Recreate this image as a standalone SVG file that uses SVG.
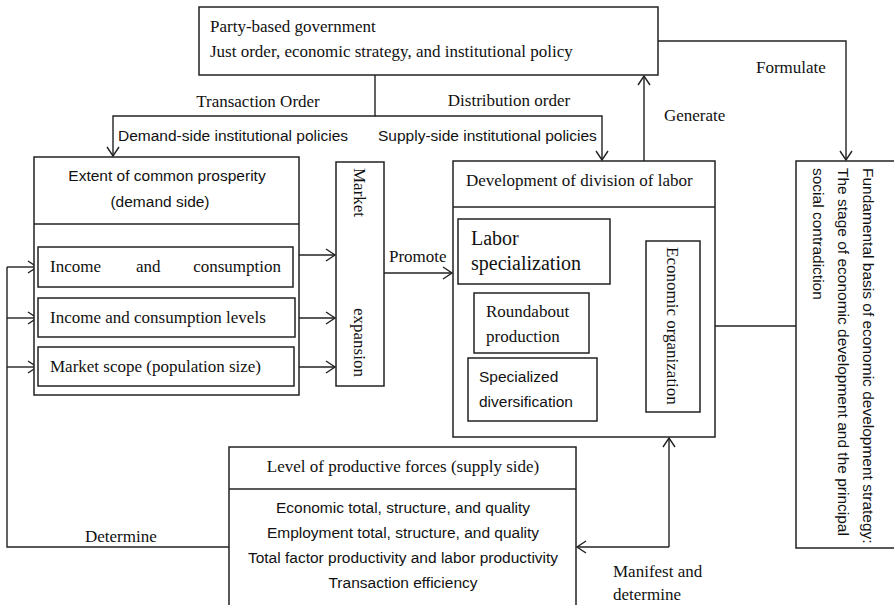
<svg xmlns="http://www.w3.org/2000/svg" width="894" height="605" viewBox="0 0 894 605">
<style>
.bx{fill:#fff;stroke:#222;stroke-width:1.5}
.ln{fill:none;stroke:#222;stroke-width:1.4}
.se{font-family:"Liberation Serif","Times New Roman",serif;font-size:17px;fill:#111}
.sa{font-family:"Liberation Sans",Arial,sans-serif;font-size:15.5px;fill:#111}
.big{font-size:20px}
.mid{text-anchor:middle}
</style>
<defs>
<marker id="ar" markerUnits="userSpaceOnUse" markerWidth="12" markerHeight="14" viewBox="0 0 12 14" refX="10" refY="7" orient="auto">
<path d="M1,1 L10,7 L1,13" fill="none" stroke="#222" stroke-width="1.4"/>
</marker>
</defs>
<rect width="894" height="605" fill="#fff"/>

<g id="connectors">
<path class="ln" d="M375,75 V116 H113 V156" marker-end="url(#ar)"/>
<path class="ln" d="M375,116 H602 V160" marker-end="url(#ar)"/>
<path class="ln" d="M658,41 H846 V160" marker-end="url(#ar)"/>
<path class="ln" d="M644,161 V76" marker-end="url(#ar)"/>
<path class="ln" d="M229,547 H7 V267"/>
<path class="ln" d="M7,267 H37" marker-end="url(#ar)"/>
<path class="ln" d="M7,318 H37" marker-end="url(#ar)"/>
<path class="ln" d="M7,367 H37" marker-end="url(#ar)"/>
<path class="ln" d="M292,255 H335" marker-end="url(#ar)"/>
<path class="ln" d="M295,318 H335" marker-end="url(#ar)"/>
<path class="ln" d="M294,367 H335" marker-end="url(#ar)"/>
<path class="ln" d="M384,273 H452" marker-end="url(#ar)"/>
<path class="ln" d="M615,301 H645" marker-end="url(#ar)"/>
<path class="ln" d="M647,337 H618" marker-end="url(#ar)"/>
<path class="ln" d="M796,326 H701" marker-end="url(#ar)"/>
<path class="ln" d="M669,547 V438" marker-end="url(#ar)"/>
<path class="ln" d="M669,547 H577" marker-end="url(#ar)"/>
<text class="se mid" x="258" y="107">Transaction Order</text>
<text class="se mid" x="509" y="106">Distribution order</text>
<text class="sa" x="118" y="141">Demand-side institutional policies</text>
<text class="sa" x="378" y="141">Supply-side institutional policies</text>
<text class="se" x="664" y="121">Generate</text>
<text class="se" x="756" y="73">Formulate</text>
<text class="se" x="389" y="262">Promote</text>
<text class="se" x="85" y="542">Determine</text>
<text class="se" x="613" y="577">Manifest  and</text>
<text class="se" x="613" y="600">determine</text>
</g>

<g id="government">
<rect class="bx" x="199" y="7" width="459" height="68"/>
<text class="se" x="210" y="32">Party-based government</text>
<text class="se" x="210" y="57">Just order, economic strategy, and institutional policy</text>
</g>

<g id="prosperity">
<rect class="bx" x="34" y="157" width="265" height="238"/>
<line class="ln" x1="34" y1="224" x2="299" y2="224" stroke-width="1.5"/>
<text class="sa mid" x="167" y="181">Extent of common prosperity</text>
<text class="sa mid" x="160" y="207">(demand side)</text>
</g>

<g id="income-consumption">
<rect class="bx" x="38" y="247" width="255" height="40"/>
<text class="se" x="50" y="272">Income</text>
<text class="se" x="136" y="272">and</text>
<text class="se" x="281" y="272" text-anchor="end">consumption</text>
</g>

<g id="income-levels">
<rect class="bx" x="38" y="298" width="257" height="39"/>
<text class="se" x="50" y="323">Income and consumption levels</text>
</g>

<g id="market-scope">
<rect class="bx" x="38" y="347" width="256" height="39"/>
<text class="se" x="50" y="372">Market scope (population size)</text>
</g>

<g id="market-expansion">
<rect class="bx" x="336" y="162" width="48" height="224"/>
<text class="se" transform="translate(354,168) rotate(90)">Market</text>
<text class="se" transform="translate(354,308) rotate(90)">expansion</text>
</g>

<g id="division">
<rect class="bx" x="453" y="161" width="262" height="276"/>
<line class="ln" x1="453" y1="207" x2="715" y2="207" stroke-width="1.5"/>
<text class="se" x="466" y="186">Development of division of labor</text>
</g>

<g id="labor-specialization">
<rect class="bx" x="458" y="219" width="152" height="65"/>
<text class="se big" x="471" y="245">Labor</text>
<text class="se big" x="471" y="270">specialization</text>
</g>

<g id="roundabout">
<rect class="bx" x="474" y="293" width="115" height="60"/>
<text class="se" x="486" y="317">Roundabout</text>
<text class="se" x="486" y="342">production</text>
</g>

<g id="diversification">
<rect class="bx" x="468" y="358" width="129" height="63"/>
<text class="sa" x="479" y="382">Specialized</text>
<text class="sa" x="479" y="407">diversification</text>
</g>

<g id="economic-organization">
<rect class="bx" x="646" y="241" width="54" height="171"/>
<text class="se" transform="translate(667,247) rotate(90)">Economic organization</text>
</g>

<g id="fundamental-basis">
<rect class="bx" x="796" y="161" width="110" height="387"/>
<text class="sa" transform="translate(863,168) rotate(90)">Fundamental basis of economic development strategy:</text>
<text class="sa" transform="translate(838,168) rotate(90)">The stage of economic development and the principal</text>
<text class="sa" transform="translate(813,168) rotate(90)">social contradiction</text>
</g>

<g id="productive-forces">
<rect class="bx" x="229" y="447" width="347" height="170"/>
<line class="ln" x1="229" y1="489" x2="576" y2="489" stroke-width="1.5"/>
<text class="se mid" x="403" y="472">Level of productive forces (supply side)</text>
<text class="sa mid" x="403" y="513">Economic total, structure, and quality</text>
<text class="sa mid" x="403" y="538">Employment total, structure, and quality</text>
<text class="sa mid" x="403" y="563">Total factor productivity and labor productivity</text>
<text class="sa mid" x="403" y="588">Transaction efficiency</text>
</g>
</svg>
